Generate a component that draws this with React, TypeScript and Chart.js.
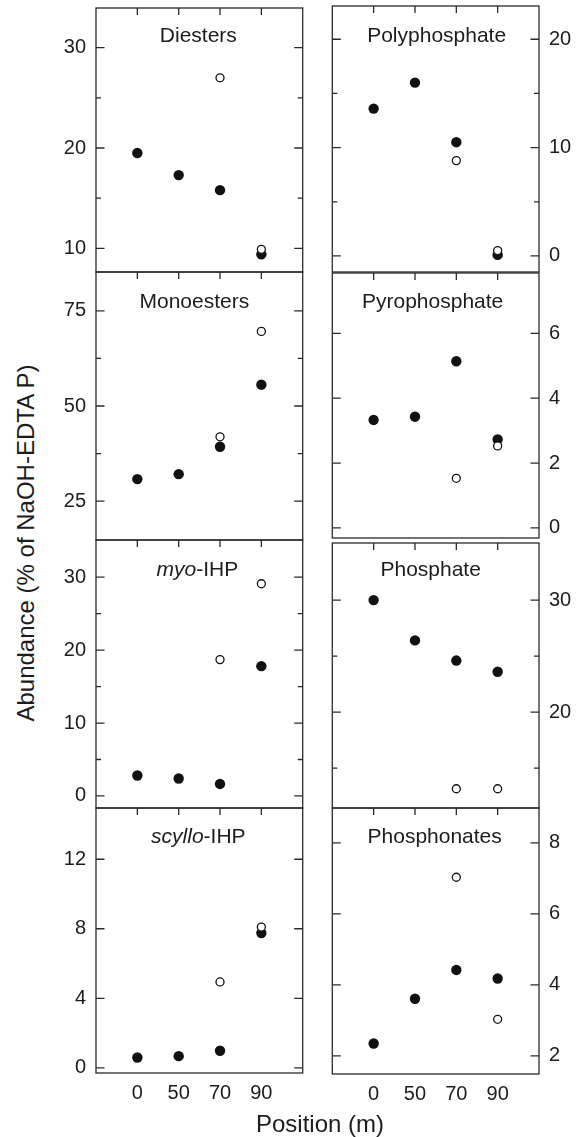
import React, { useEffect, useRef } from 'react';
import { Chart, registerables } from 'chart.js';

Chart.register(...registerables);

const FONT = "'Liberation Sans', Arial, Helvetica, sans-serif";
const INK = '#1c1c1c';
const FRAME = '#2a2a2a';

// ---------- data ----------
const POSITIONS = ['0', '50', '70', '90'];

const DIESTERS_FILLED = [19.5, 17.3, 15.8, 9.4];
const DIESTERS_OPEN = [null, null, 27.0, 9.9];
const DIESTERS_TICKS = [10, 15, 20, 25, 30];
const DIESTERS_LABELS = [10, 20, 30];

const POLY_FILLED = [13.6, 16.0, 10.5, 0.1];
const POLY_OPEN = [null, null, 8.8, 0.5];
const POLY_TICKS = [0, 5, 10, 15, 20];
const POLY_LABELS = [0, 10, 20];

const MONO_FILLED = [30.8, 32.1, 39.3, 55.6];
const MONO_OPEN = [null, null, 41.9, 69.6];
const MONO_TICKS = [25, 37.5, 50, 62.5, 75];
const MONO_LABELS = [25, 50, 75];

const PYRO_FILLED = [3.33, 3.43, 5.14, 2.73];
const PYRO_OPEN = [null, null, 1.53, 2.53];
const PYRO_TICKS = [0, 2, 4, 6];
const PYRO_LABELS = [0, 2, 4, 6];

const MYO_FILLED = [2.8, 2.4, 1.65, 17.8];
const MYO_OPEN = [null, null, 18.7, 29.1];
const MYO_TICKS = [0, 5, 10, 15, 20, 25, 30];
const MYO_LABELS = [0, 10, 20, 30];

const PHOSPHATE_FILLED = [30.0, 26.4, 24.6, 23.6];
const PHOSPHATE_OPEN = [null, null, 13.15, 13.15];
const PHOSPHATE_TICKS = [15, 20, 25, 30];
const PHOSPHATE_LABELS = [20, 30];

const SCYLLO_FILLED = [0.59, 0.67, 0.98, 7.75];
const SCYLLO_OPEN = [null, null, 4.94, 8.1];
const SCYLLO_TICKS = [0, 4, 8, 12];
const SCYLLO_LABELS = [0, 4, 8, 12];

const PHOSPHONATES_FILLED = [2.35, 3.61, 4.42, 4.18];
const PHOSPHONATES_OPEN = [null, null, 7.03, 3.03];
const PHOSPHONATES_TICKS = [2, 4, 6, 8];
const PHOSPHONATES_LABELS = [2, 4, 6, 8];

// ---------- panel layout ----------
type Panel = {
  title: [string, boolean][];
  filled: (number | null)[];
  open: (number | null)[];
  ticks: number[];
  labels: number[];
  min: number;
  max: number;
  col: 0 | 1;
  boxTop: number;
  boxBottom: number;
  titleDx: number;
  titleBase: number;
  bottom: boolean;
};

const PANELS: Panel[] = [
  { title: [['Diesters', false]], filled: DIESTERS_FILLED, open: DIESTERS_OPEN, ticks: DIESTERS_TICKS, labels: DIESTERS_LABELS, min: 7.64, max: 33.96, col: 0, boxTop: 8, boxBottom: 272, titleDx: -1, titleBase: 34.3, bottom: false },
  { title: [['Polyphosphate', false]], filled: POLY_FILLED, open: POLY_OPEN, ticks: POLY_TICKS, labels: POLY_LABELS, min: -1.48, max: 23.07, col: 1, boxTop: 6, boxBottom: 272, titleDx: 1, titleBase: 36.3, bottom: false },
  { title: [['Monoesters', false]], filled: MONO_FILLED, open: MONO_OPEN, ticks: MONO_TICKS, labels: MONO_LABELS, min: 14.8, max: 85.2, col: 0, boxTop: 272, boxBottom: 540, titleDx: -5, titleBase: 36, bottom: false },
  { title: [['Pyrophosphate', false]], filled: PYRO_FILLED, open: PYRO_OPEN, ticks: PYRO_TICKS, labels: PYRO_LABELS, min: -0.31, max: 7.86, col: 1, boxTop: 273, boxBottom: 538, titleDx: -3, titleBase: 35, bottom: false },
  { title: [['myo', true], ['-IHP', false]], filled: MYO_FILLED, open: MYO_OPEN, ticks: MYO_TICKS, labels: MYO_LABELS, min: -1.65, max: 35.1, col: 0, boxTop: 540, boxBottom: 808, titleDx: -2, titleBase: 36, bottom: false },
  { title: [['Phosphate', false]], filled: PHOSPHATE_FILLED, open: PHOSPHATE_OPEN, ticks: PHOSPHATE_TICKS, labels: PHOSPHATE_LABELS, min: 11.43, max: 35.1, col: 1, boxTop: 543, boxBottom: 808, titleDx: -5, titleBase: 33, bottom: false },
  { title: [['scyllo', true], ['-IHP', false]], filled: SCYLLO_FILLED, open: SCYLLO_OPEN, ticks: SCYLLO_TICKS, labels: SCYLLO_LABELS, min: -0.3, max: 14.95, col: 0, boxTop: 808, boxBottom: 1073, titleDx: -1, titleBase: 35.3, bottom: true },
  { title: [['Phosphonates', false]], filled: PHOSPHONATES_FILLED, open: PHOSPHONATES_OPEN, ticks: PHOSPHONATES_TICKS, labels: PHOSPHONATES_LABELS, min: 1.49, max: 8.98, col: 1, boxTop: 808, boxBottom: 1074, titleDx: -1, titleBase: 35.3, bottom: true },
];

const PAD_V = 26;
const X_AXIS_H = 40;
const LEFT_AXIS_W = 56;
const RIGHT_AXIS_W = 40;
const BOX_W = 208;
const LEFT_BOX_X = 96;
const RIGHT_BOX_X = 331;

const toPoints = (vals: (number | null)[]) =>
  vals.map((v, i) => ({ x: i, y: v })).filter((p) => p.y !== null) as { x: number; y: number }[];

function makeFrame(p: Panel) {
  return {
    id: 'frame',
    beforeDatasetsDraw(chart: any) {
      const { ctx, chartArea: a, scales } = chart;
      const ys = scales.y;
      const xs = scales.x;
      ctx.save();
      ctx.strokeStyle = FRAME;
      ctx.lineWidth = 1.3;
      ctx.strokeRect(a.left, a.top, a.right - a.left, a.bottom - a.top);
      ctx.beginPath();
      for (const t of ys.ticks) {
        const py = ys.getPixelForValue(t.value);
        const len = p.labels.includes(t.value) ? 8.5 : 5;
        ctx.moveTo(a.left, py);
        ctx.lineTo(a.left + len, py);
        ctx.moveTo(a.right, py);
        ctx.lineTo(a.right - len, py);
      }
      for (const t of xs.ticks) {
        const px = xs.getPixelForValue(t.value);
        ctx.moveTo(px, a.top);
        ctx.lineTo(px, a.top + 7);
      }
      ctx.stroke();

      ctx.fillStyle = INK;
      ctx.textBaseline = 'alphabetic';
      ctx.textAlign = 'left';
      const segs = p.title.map(([text, it]) => {
        ctx.font = `${it ? 'italic ' : ''}21px ${FONT}`;
        return { text, it, w: ctx.measureText(text).width };
      });
      const total = segs.reduce((s, g) => s + g.w, 0);
      let x = (a.left + a.right) / 2 + p.titleDx - total / 2;
      const y = a.top + p.titleBase;
      for (const g of segs) {
        ctx.font = `${g.it ? 'italic ' : ''}21px ${FONT}`;
        ctx.fillText(g.text, x, y);
        x += g.w;
      }
      ctx.restore();
    },
  };
}

function PanelChart({ p }: { p: Panel }) {
  const ref = useRef<HTMLCanvasElement | null>(null);
  const left = p.col === 0 ? LEFT_BOX_X - LEFT_AXIS_W : RIGHT_BOX_X - 4;
  const width = p.col === 0 ? LEFT_AXIS_W + BOX_W + 4 : 4 + BOX_W + RIGHT_AXIS_W;
  const top = p.boxTop - PAD_V;
  const height = p.boxBottom - p.boxTop + PAD_V + (p.bottom ? X_AXIS_H : PAD_V);

  useEffect(() => {
    if (!ref.current) return;
    const chart = new Chart(ref.current, {
      type: 'scatter',
      data: {
        datasets: [
          {
            label: 'open',
            data: toPoints(p.open),
            pointRadius: 4,
            pointHoverRadius: 4,
            backgroundColor: '#ffffff',
            borderColor: '#111111',
            borderWidth: 1.3,
            order: 0,
          },
          {
            label: 'filled',
            data: toPoints(p.filled),
            pointRadius: 5.2,
            pointHoverRadius: 5.2,
            backgroundColor: '#111111',
            borderColor: '#111111',
            borderWidth: 0,
            order: 1,
          },
        ],
      },
      options: {
        responsive: false,
        animation: false,
        devicePixelRatio: 1,
        layout: {
          padding: {
            left: p.col === 0 ? 0 : 4,
            right: p.col === 0 ? 4 : 0,
            top: PAD_V,
            bottom: p.bottom ? 0 : PAD_V,
          },
        },
        plugins: { legend: { display: false }, tooltip: { enabled: false } },
        events: [],
        scales: {
          x: {
            type: 'linear',
            min: -1,
            max: 4,
            display: p.bottom,
            afterBuildTicks: (s: any) => {
              s.ticks = POSITIONS.map((_, i) => ({ value: i }));
            },
            afterFit: (s: any) => {
              if (p.bottom) s.height = X_AXIS_H;
            },
            grid: { display: false, drawTicks: false },
            border: { display: false },
            ticks: {
              padding: 8,
              autoSkip: false,
              maxRotation: 0,
              color: INK,
              font: { family: FONT, size: 20 },
              callback: (v: any) => POSITIONS[v as number] ?? '',
            },
          },
          y: {
            type: 'linear',
            position: p.col === 0 ? 'left' : 'right',
            min: p.min,
            max: p.max,
            afterBuildTicks: (s: any) => {
              s.ticks = p.ticks.map((v) => ({ value: v }));
            },
            afterFit: (s: any) => {
              s.width = p.col === 0 ? LEFT_AXIS_W : RIGHT_AXIS_W;
            },
            grid: { display: false, drawTicks: false },
            border: { display: false },
            ticks: {
              padding: 10,
              autoSkip: false,
              color: INK,
              font: { family: FONT, size: 20 },
              callback: (v: any) => (p.labels.includes(v as number) ? String(v) : ''),
            },
          },
        },
      },
      plugins: [makeFrame(p)],
    } as any);
    return () => chart.destroy();
  }, []);

  return (
    <canvas
      ref={ref}
      width={width}
      height={height}
      style={{ position: 'absolute', left, top, width, height }}
    />
  );
}

export default function App() {
  return (
    <div
      style={{
        position: 'fixed',
        left: 0,
        top: 0,
        width: 581,
        height: 1137,
        background: '#ffffff',
        fontFamily: FONT,
        color: INK,
      }}
    >
      {PANELS.map((p, i) => (
        <PanelChart key={i} p={p} />
      ))}
      <div
        style={{
          position: 'absolute',
          left: 26,
          top: 543,
          fontSize: 24,
          lineHeight: 1,
          whiteSpace: 'nowrap',
          transform: 'translate(-50%, -50%) rotate(-90deg)',
        }}
      >
        Abundance (% of NaOH-EDTA P)
      </div>
      <div
        style={{
          position: 'absolute',
          left: 320,
          top: 1124,
          fontSize: 24,
          lineHeight: 1,
          whiteSpace: 'nowrap',
          transform: 'translate(-50%, -50%)',
        }}
      >
        Position (m)
      </div>
    </div>
  );
}
